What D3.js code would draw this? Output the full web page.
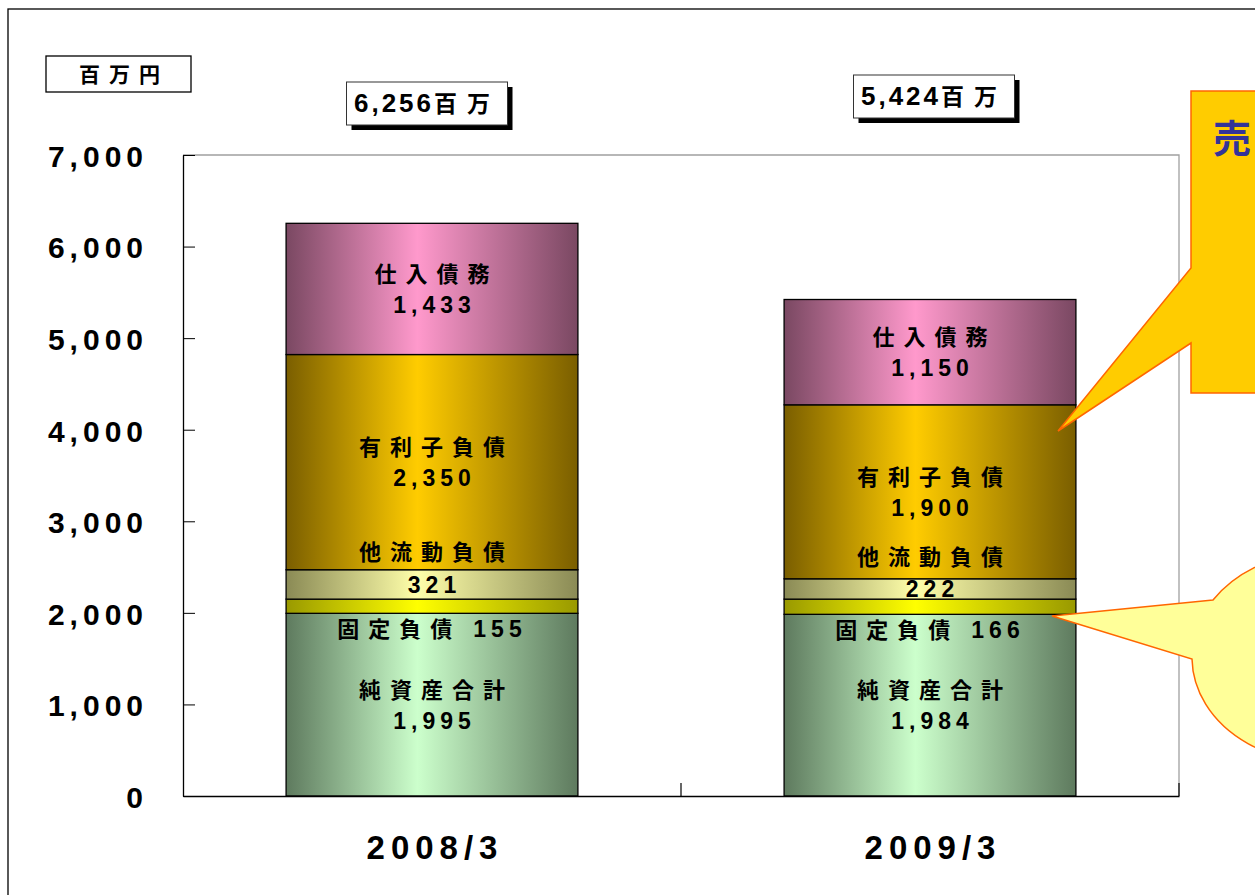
<!DOCTYPE html>
<html>
<head>
<meta charset="utf-8">
<script src="https://cdn.jsdelivr.net/npm/d3@7"></script>
<style>
  body { margin: 0; background: #fff; }
  svg { display: block; }
  text { font-family: "Noto Sans CJK JP", "Noto Sans", sans-serif; font-weight: 700; fill: #000; }
  .num { font-family: "Liberation Sans", Arial, sans-serif; font-weight: 700; }
</style>
</head>
<body>
<div id="chart"></div>
<script>
// Data
const categories = ["2008/3", "2009/3"];
const seriesNames = ["純資産合計", "固定負債", "他流動負債", "有利子負債", "仕入債務"];
const values2008 = [1995, 155, 321, 2350, 1433];
const values2009 = [1984, 166, 222, 1900, 1150];
const totals = [6256, 5424];
const yTicks = [0, 1000, 2000, 3000, 4000, 5000, 6000, 7000];
const unitLabel = "百万円";
const totalUnit = "百万";
const calloutText = "売";

// edge colour, centre colour of each segment's gradient
const colors = [
  ["#5e7a5e", "#ccffcc"],
  ["#999900", "#ffff00"],
  ["#8a8a55", "#ffffaa"],
  ["#7a5e00", "#ffcc00"],
  ["#7a4862", "#ff99cc"],
];

const width = 1255, height = 895;
const plot = { left: 183, right: 1179, top: 155, bottom: 796 };

const svg = d3
  .select("#chart")
  .append("svg")
  .attr("width", width)
  .attr("height", height);

// outer frame
svg.append("rect")
  .attr("x", 8).attr("y", 9)
  .attr("width", 1400).attr("height", 1000)
  .attr("fill", "none").attr("stroke", "#000").attr("stroke-width", 1.3);

// gradients
const defs = svg.append("defs");
colors.forEach((c, i) => {
  const g = defs.append("linearGradient").attr("id", "g" + i)
    .attr("x1", 0).attr("x2", 1).attr("y1", 0).attr("y2", 0);
  g.append("stop").attr("offset", "0%").attr("stop-color", c[0]);
  g.append("stop").attr("offset", "45%").attr("stop-color", c[1]);
  g.append("stop").attr("offset", "100%").attr("stop-color", c[0]);
});

// scales
const x = d3.scaleBand().domain(categories).range([plot.left, plot.right]).padding(0);
const y = d3.scaleLinear().domain([0, 7000]).range([plot.bottom, plot.top]);
const barW = x.bandwidth() * 0.586;
const bx = (c) => x(c) + (x.bandwidth() - barW) / 2;

// plot frame (top and right are grey)
svg.append("path")
  .attr("d", `M${plot.left},${plot.top}H${plot.right}V${plot.bottom}`)
  .attr("fill", "none").attr("stroke", "#a0a0a0").attr("stroke-width", 1.3);

// stack the data
const table = categories.map((c, i) => {
  const vals = [values2008, values2009][i];
  const row = { cat: c };
  seriesNames.forEach((s, j) => (row[s] = vals[j]));
  return row;
});
const stacked = d3.stack().keys(seriesNames)(table);

// bars
svg.append("g")
  .selectAll("g")
  .data(stacked)
  .enter()
  .append("g")
  .attr("fill", (d, i) => `url(#g${i})`)
  .selectAll("rect")
  .data((d) => d)
  .enter()
  .append("rect")
  .attr("x", (d) => bx(d.data.cat))
  .attr("y", (d) => y(d[1]))
  .attr("width", barW)
  .attr("height", (d) => y(d[0]) - y(d[1]))
  .attr("stroke", "#000")
  .attr("stroke-width", 1.3);

// Y axis
const yAxis = svg.append("g")
  .attr("transform", `translate(${plot.left},0)`)
  .call(d3.axisLeft(y).tickValues(yTicks).tickSize(-12).tickSizeOuter(0)
    .tickPadding(35).tickFormat(d3.format(",")));
yAxis.select(".domain").attr("stroke", "#000").attr("stroke-width", 1.3);
yAxis.selectAll(".tick line").attr("stroke", "#000");
yAxis.selectAll("text")
  .attr("class", "num")
  .style("font-size", "30px")
  .style("letter-spacing", "5px")
  .attr("dy", "0.38em");

// X axis
const xAxis = svg.append("g")
  .attr("transform", `translate(0,${plot.bottom})`)
  .call(d3.axisBottom(x).tickSize(0).tickSizeOuter(0).tickPadding(40));
xAxis.select(".domain").attr("stroke", "#000").attr("stroke-width", 1.3);
xAxis.selectAll("text")
  .attr("class", "num")
  .style("font-size", "33px")
  .style("letter-spacing", "6px")
  .attr("dx", "3px");

// category boundary ticks
svg.append("g")
  .selectAll("line")
  .data(categories)
  .enter()
  .append("line")
  .attr("x1", (d) => x(d) + x.bandwidth())
  .attr("x2", (d) => x(d) + x.bandwidth())
  .attr("y1", plot.bottom)
  .attr("y2", plot.bottom - 13)
  .attr("stroke", "#000")
  .attr("stroke-width", 1.2);

// segment labels
const fmt = d3.format(",");
const labels = svg.append("g");
stacked.forEach((layer, i) => {
  layer.forEach((d) => {
    const cx = bx(d.data.cat) + barW / 2;
    const top = y(d[1]), bot = y(d[0]);
    const mid = (top + bot) / 2;
    const val = fmt(d[1] - d[0]);
    const name = seriesNames[i];
    if (i === 1) {
      const t = labels.append("text")
        .attr("x", cx).attr("y", bot + 16).attr("dy", "0.36em")
        .attr("text-anchor", "middle").style("font-size", "22px");
      t.append("tspan").style("letter-spacing", "9px").text(name);
      t.append("tspan").attr("class", "num").attr("dx", 12)
        .style("font-size", "23px").style("letter-spacing", "5px").text(val);
      return;
    }
    const nameY = i === 2 ? mid - 32 : mid - 15;
    const valY = i === 2 ? mid : mid + 16;
    labels.append("text")
      .attr("x", cx + 4.5).attr("y", nameY).attr("dy", "0.36em")
      .attr("text-anchor", "middle")
      .style("font-size", "22px").style("letter-spacing", "9px")
      .text(name);
    labels.append("text")
      .attr("class", "num")
      .attr("x", cx + 2.5).attr("y", valY).attr("dy", "0.36em")
      .attr("text-anchor", "middle")
      .style("font-size", "23px").style("letter-spacing", "5px")
      .text(val);
  });
});

// unit box
svg.append("rect")
  .attr("x", 46).attr("y", 56).attr("width", 145).attr("height", 36)
  .attr("fill", "#fff").attr("stroke", "#000").attr("stroke-width", 1.3);
svg.append("text")
  .attr("x", 124).attr("y", 74).attr("dy", "0.36em")
  .attr("text-anchor", "middle")
  .style("font-size", "21px").style("letter-spacing", "9px")
  .text(unitLabel);

// total boxes with drop shadow
const boxShift = [-5, 4];
const boxTop = [82, 75];
totals.forEach((t, i) => {
  const c = categories[i];
  const cx = bx(c) + barW / 2 + boxShift[i];
  const bw = 161, bh = 43;
  const g = svg.append("g");
  g.append("rect")
    .attr("x", cx - bw / 2 + 5).attr("y", boxTop[i] + 5)
    .attr("width", bw).attr("height", bh).attr("fill", "#000");
  g.append("rect")
    .attr("x", cx - bw / 2).attr("y", boxTop[i])
    .attr("width", bw).attr("height", bh)
    .attr("fill", "#fff").attr("stroke", "#333").attr("stroke-width", 1);
  const tx = g.append("text")
    .attr("x", cx).attr("y", boxTop[i] + bh / 2).attr("dy", "0.36em")
    .attr("text-anchor", "middle").style("font-size", "23px");
  tx.append("tspan").attr("class", "num")
    .style("font-size", "26px").style("letter-spacing", "3px").text(fmt(t));
  tx.append("tspan").style("letter-spacing", "10px").text(totalUnit);
});

// callout 1 (rectangle with pointer)
svg.append("path")
  .attr("d", "M1191,91L1300,91L1300,393L1191,393L1191,343L1058,431L1191,268Z")
  .attr("fill", "#ffcc00").attr("stroke", "#ff6600").attr("stroke-width", 1.5);
svg.append("text")
  .attr("x", 1213).attr("y", 152)
  .style("font-size", "38px").style("fill", "#333399")
  .text(calloutText);

// callout 2 (oval with pointer)
svg.append("path")
  .attr("d", "M1213,600L1052,616L1192,659A130,105 0 1 0 1213,600Z")
  .attr("fill", "#ffff99").attr("stroke", "#ff6600").attr("stroke-width", 1.5);
</script>
</body>
</html>
